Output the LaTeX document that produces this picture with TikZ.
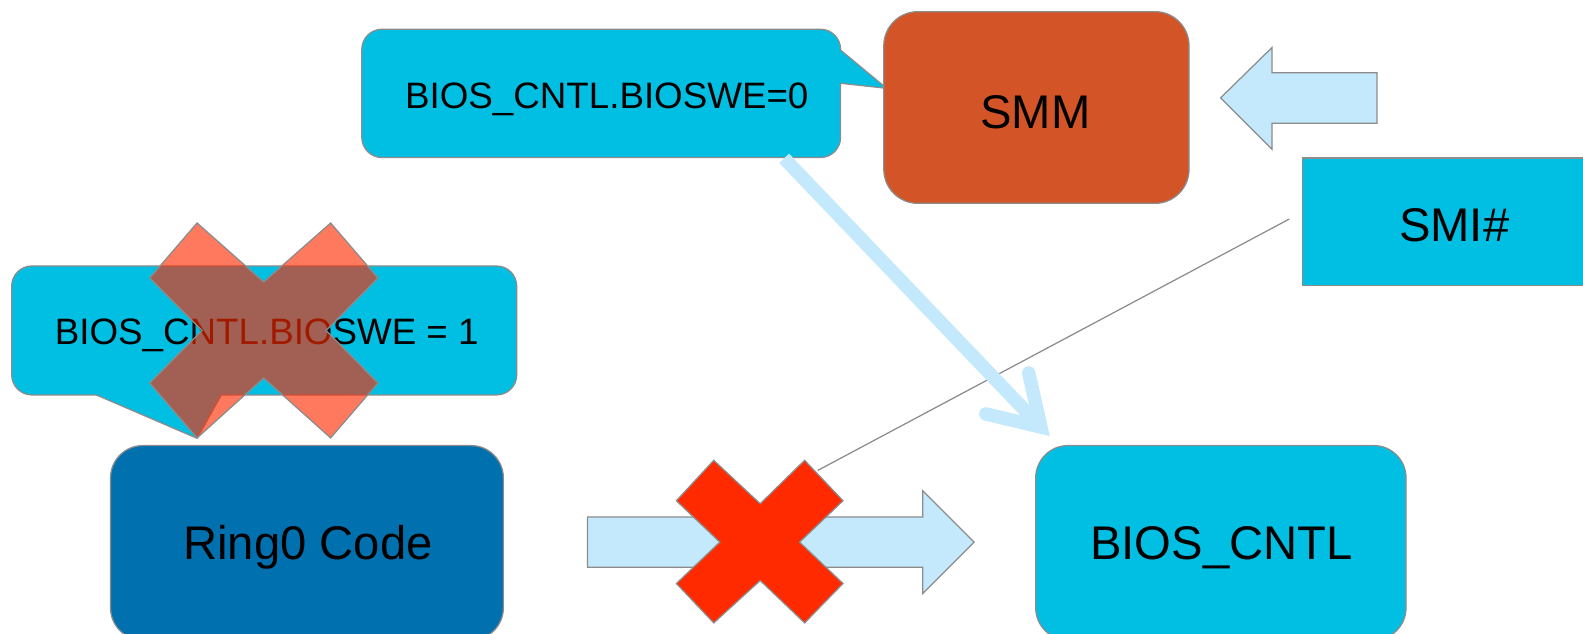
\documentclass[tikz,border=0pt]{standalone}
\usepackage{fontspec}
\setmainfont{Liberation Sans}
\definecolor{cyanc}{RGB}{0,191,227}
\definecolor{darkbluec}{RGB}{0,112,175}
\definecolor{orangec}{RGB}{211,84,38}
\definecolor{lightc}{RGB}{197,233,252}
\definecolor{redc}{RGB}{255,42,0}
\definecolor{bordc}{RGB}{140,140,140}
\tikzset{
  bord/.style={draw=bordc, line width=0.35pt},
  boxnode/.style={bord, inner sep=0pt, outer sep=0pt},
  bigtxt/.style={font=\fontsize{13.3}{16}\selectfont, anchor=base, inner sep=0pt},
  smalltxt/.style={font=\fontsize{10.35}{12}\selectfont, anchor=base, inner sep=0pt},
  blockarrow/.style={bord, fill=lightc},
  crossshape/.style={bord, fill=redc},
  thickarrow/.style={draw=lightc, line width=3.8pt},
}
\begin{document}
\begin{tikzpicture}[x=0.01cm, y=-0.01cm]
\useasboundingbox (0,0) rectangle (1568,628);
\begin{scope}
\clip (0,0) rectangle (1568,628);

% callout 0
\node[boxnode, fill=cyanc, rounded corners=5.69pt, minimum width=134.87pt, minimum height=36.14pt] (cb0) at (595.5,92.5) {};
\fill[cyanc] (828,49.5) -- (832.5,49.5) -- (878.2,87.5) -- (832.5,82.5) -- (828,82.5) -- cycle;
\draw[bord] (832.5,49.5) -- (878.2,87.5) -- (832.5,82.5);
\node[smalltxt] (cb0t) at (601,107.3) {BIOS\_CNTL.BIOSWE=0};

% SMM
\node[boxnode, fill=orangec, rounded corners=9.6pt, minimum width=85.98pt, minimum height=54.0pt] (smm) at (1026.6,106.5) {};
\node[bigtxt] (smmt) at (1025.7,127.1) {SMM};

% left block arrow
\draw[blockarrow] (1209,97) -- (1260,47) -- (1260,72) -- (1364,72) -- (1364,122) -- (1260,122) -- (1260,148) -- cycle;

% SMI#
\node[boxnode, fill=cyanc, minimum width=88.2pt, minimum height=36.0pt] (smi) at (1445,219.75) {};
\node[bigtxt] (smit) at (1440.4,239.4) {SMI\#};

% thin line
\coordinate (lstart) at (1277,217);
\coordinate (lend) at (810,466);
\draw[bord] (lstart) -- (lend);

% thick light-blue arrow from callout to BIOS_CNTL
\coordinate (tstart) at (776.7,156.8);
\coordinate (ttip) at (1031,423);
\coordinate (tarm1) at (976.5,410);
\coordinate (tarm2) at (1019,369.5);
\draw[thickarrow, line cap=butt] (tstart) -- (ttip);
\draw[thickarrow, line cap=round, line join=miter] (tarm1) -- (ttip) -- (tarm2);

% callout 1
\node[boxnode, fill=cyanc, rounded corners=5.69pt, minimum width=142.27pt, minimum height=36.33pt] (cb1) at (261.7,327.35) {};
\fill[cyanc] (95.4,386) -- (95.4,391.2) -- (195.2,434.2) -- (219.3,391.2) -- (219.3,386) -- cycle;
\draw[bord] (95.4,391.2) -- (195.2,434.2) -- (219.3,391.2);
\node[smalltxt] (cb1t) at (264.2,341.7) {BIOS\_CNTL.BIOSWE = 1};

% translucent cross
\draw[crossshape, fill opacity=0.63] (195.2,220.9) -- (261.2,279.3) -- (327.5,220.9) -- (374.4,275.4) -- (323,327.4) -- (374.4,379.4) -- (327.5,433.8) -- (261.2,374.4) -- (195.2,433.8) -- (148.3,379.4) -- (200,327.4) -- (148.3,275.4) -- cycle;

% Ring0 Code
\node[boxnode, fill=darkbluec, rounded corners=9.1pt, minimum width=110.65pt, minimum height=54.8pt] (ring) at (304.05,537.7) {};
\node[bigtxt] (ringt) at (305.1,554.7) {Ring0 Code};

% BIOS_CNTL
\node[boxnode, fill=cyanc, rounded corners=9.1pt, minimum width=104.31pt, minimum height=54.8pt] (bc) at (1209.3,537.7) {};
\node[bigtxt] (bct) at (1209.8,554.7) {BIOS\_CNTL};

% right block arrow
\draw[blockarrow] (582,512) -- (914,512) -- (914,486) -- (965,537) -- (914,588) -- (914,562) -- (582,562) -- cycle;

% red cross
\draw[crossshape] (707,456) -- (753,499) -- (797,456) -- (835,496) -- (792,537) -- (835,578) -- (797,617) -- (753,575) -- (707,617) -- (670,578) -- (713,537) -- (670,496) -- cycle;
\end{scope}
\end{tikzpicture}
\end{document}
